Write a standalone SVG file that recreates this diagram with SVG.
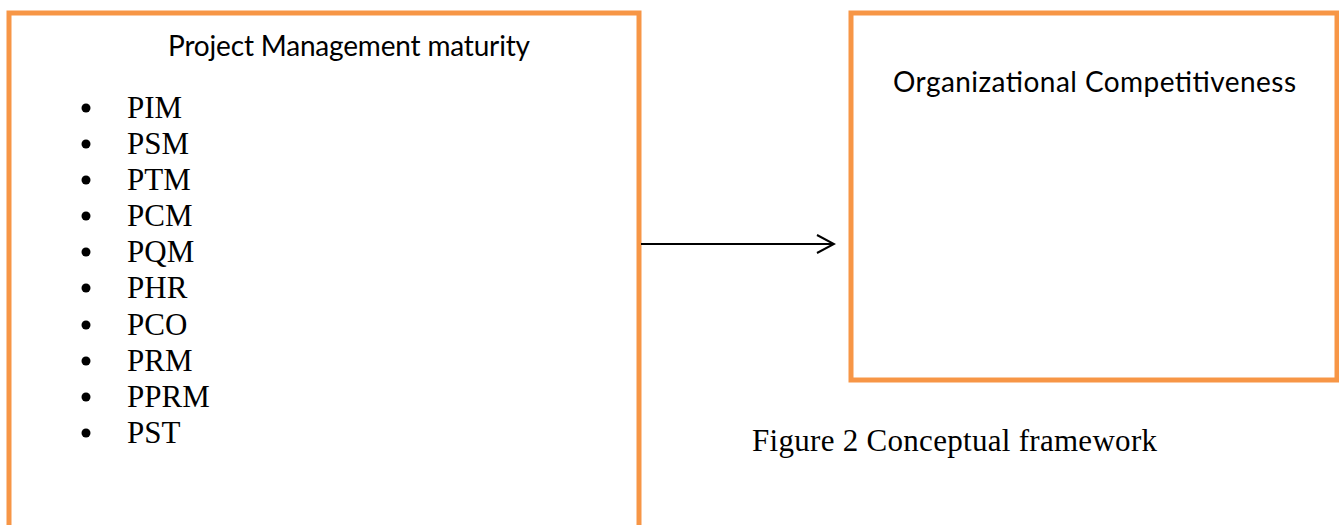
<svg xmlns="http://www.w3.org/2000/svg" width="1339" height="525" viewBox="0 0 1339 525">
  <style>
    .box { fill: #ffffff; stroke: #F79646; stroke-width: 5; }
    .head { font-family: Lato, "Open Sans", sans-serif; font-size: 28px; fill: #000000; }
    .item { font-family: "Liberation Serif", serif; font-size: 31px; fill: #000000; }
    .cap { font-family: "Liberation Serif", serif; font-size: 31px; fill: #000000; }
    .conn { stroke: #000000; stroke-width: 2; fill: none; }
  </style>
  <defs>
    <marker id="open-arrow" viewBox="0 0 20 20" refX="18" refY="10" markerWidth="20" markerHeight="20" markerUnits="userSpaceOnUse" orient="auto">
      <path d="M1,1 L18,10 L1,19" fill="none" stroke="#000000" stroke-width="2"/>
    </marker>
  </defs>
  <rect width="1339" height="525" fill="#ffffff"/>

  <g id="node-pmm">
    <rect class="box" x="9" y="13" width="630" height="530"/>
    <text class="head" x="168" y="56" textLength="362">Project Management maturity</text>
    <g fill="#000000">
      <circle cx="86" cy="108" r="4.5"/>
      <circle cx="86" cy="144" r="4.5"/>
      <circle cx="86" cy="180" r="4.5"/>
      <circle cx="86" cy="216" r="4.5"/>
      <circle cx="86" cy="252" r="4.5"/>
      <circle cx="86" cy="288" r="4.5"/>
      <circle cx="86" cy="325" r="4.5"/>
      <circle cx="86" cy="361" r="4.5"/>
      <circle cx="86" cy="397" r="4.5"/>
      <circle cx="86" cy="433" r="4.5"/>
    </g>
    <text class="item" x="127" y="118">PIM</text>
    <text class="item" x="127" y="154">PSM</text>
    <text class="item" x="127" y="190">PTM</text>
    <text class="item" x="127" y="226">PCM</text>
    <text class="item" x="127" y="262">PQM</text>
    <text class="item" x="127" y="298">PHR</text>
    <text class="item" x="127" y="335">PCO</text>
    <text class="item" x="127" y="371">PRM</text>
    <text class="item" x="127" y="407">PPRM</text>
    <text class="item" x="127" y="443">PST</text>
  </g>

  <g id="node-oc">
    <rect class="box" x="851" y="13" width="486" height="367"/>
    <text class="head" x="893" y="92" textLength="403">Organizational Competitiveness</text>
  </g>

  <g id="connectors">
    <line class="conn" x1="641" y1="244" x2="834" y2="244" marker-end="url(#open-arrow)"/>
  </g>

  <g id="caption">
    <text class="cap" x="752" y="451" textLength="405">Figure 2 Conceptual framework</text>
  </g>
</svg>
